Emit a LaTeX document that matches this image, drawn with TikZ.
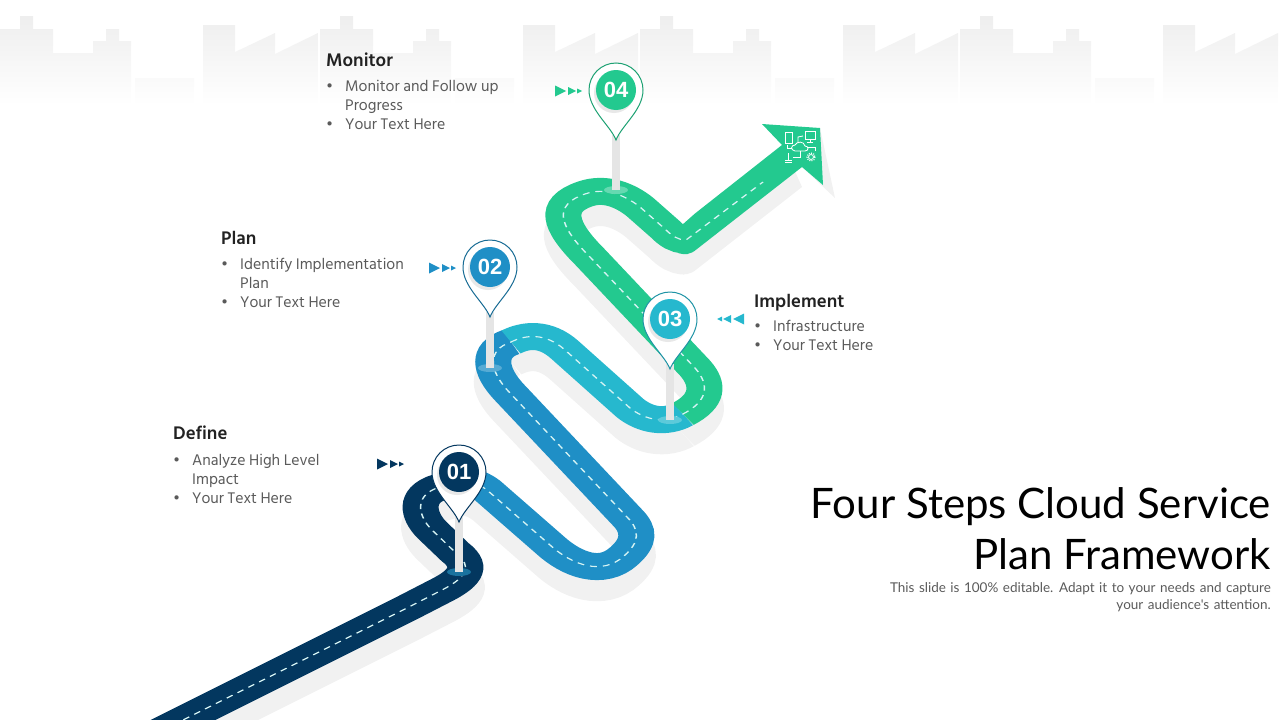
\documentclass[tikz,border=0pt]{standalone}
\usepackage{fontspec}
\setmainfont{Hind Siliguri}
\newfontfamily\titlefont{Lato}
\newfontfamily\numfont{Liberation Sans}
\usepackage{tikz}
\definecolor{myink}{HTML}{222222}
\definecolor{mytext}{HTML}{5A5A5A}
\definecolor{mynavy}{HTML}{03375F}
\definecolor{myblue}{HTML}{1F8FC6}
\definecolor{myteal}{HTML}{26B8CE}
\definecolor{mygreen}{HTML}{23C98F}
\definecolor{myshadow}{HTML}{F1F1F1}
\definecolor{mydash}{HTML}{D5F3F3}
\tikzset{
  road/.style={line width=36pt},
  roadshadow/.style={line width=39pt, draw=myshadow},
  roaddash/.style={line width=1.5pt, draw=mydash, dash pattern=on 7pt off 6pt},
  squashed/.style={y=-1.33333pt, transform canvas={yscale=0.75}},
  headtext/.style={anchor=base west, inner sep=0pt, text=myink, font=\fontsize{18.7}{20}\selectfont\bfseries},
  itemtext/.style={anchor=north west, inner sep=0pt, align=left, text=mytext, font=\fontsize{15.8}{19}\selectfont},
  pindisc/.style={circle, minimum size=40pt, inner sep=0pt, text=white, font=\numfont\fontsize{22}{24}\selectfont\bfseries},
}
% road pieces, in pixels of the slide
\newcommand{\roadnavy}{(151,736) -- (407,608) -- (440,591) .. controls (462,580) and (476,568) .. (455,552) -- (432,530) .. controls (418,516) and (413,495) .. (440,487) -- (455,483)}
\newcommand{\roadblue}{(455,483) .. controls (465,480) and (475,481) .. (487,490) -- (550,545) .. controls (572,565) and (602,576) .. (624,556) .. controls (640,542) and (640,530) .. (627,517) -- (510,393) .. controls (488,370) and (487,350) .. (511,342)}
\newcommand{\roadteal}{(511,342) .. controls (525,335) and (545,332) .. (565,350) -- (630,408) .. controls (645,420) and (665,424) .. (683,414)}
\newcommand{\roadgreen}{(683,414) .. controls (708,401) and (710,385) .. (695,368) -- (590,257) .. controls (558,225) and (553,205) .. (585,194) .. controls (605,187) and (625,195) .. (640,207) -- (665,229) .. controls (672,236) and (678,240) .. (686,240)}
\newcommand{\bul}{\makebox[19pt][l]{\textbullet}}
\newcommand{\skyline}{(0,105) -- (0,29) -- (20,29) -- (20,16) -- (33,16) -- (33,29) -- (53,29) -- (53,53) -- (93,53) -- (93,41) -- (106,41) -- (106,29) -- (119,29) -- (119,41) -- (131,41) -- (131,105) -- cycle
  (135,105) -- (135,78) -- (194,78) -- (194,105) -- cycle
  (203,105) -- (203,25) -- (235,25) -- (235,52) -- (275,33) -- (275,54) -- (318,33) -- (318,105) -- cycle}
% pin: name, centre x, centre y, foot y, colour, edge, ring, label
\newcommand{\pinmark}[8]{
  \fill[#7] (#2,#4) ellipse (12 and 4);
  \fill[black!10] (#2-4,#3+45) rectangle (#2+4,#4);
  \filldraw[fill=white, draw=#6, line width=1pt] (#2,#3+50) .. controls (#2-6,#3+35) and (#2-27,#3+20) .. (#2-27,#3) arc[start angle=180, end angle=360, radius=27] .. controls (#2+27,#3+20) and (#2+6,#3+35) .. cycle;
  \fill[black!9] (#2-2,#3+3) circle (20);
  \node[pindisc, fill=#5] (#1) at (#2,#3) {#8};
}
\newcommand{\triarrows}[4]{
  \foreach \a/\b/\h in {0/11/5.5, 13/21/4, 22/27/2.5}
    \fill[#4] ({#1+#3*\a},{#2-\h}) -- ({#1+#3*\b},#2) -- ({#1+#3*\a},{#2+\h}) -- cycle;
}
\begin{document}
\begin{tikzpicture}[x=1pt,y=-1pt]
\useasboundingbox (0,0) rectangle (1280,720);

% skyline behind everything
\foreach \shiftx in {0,320,640,960} {
  \begin{scope}[xshift=\shiftx pt]
    \clip \skyline;
    \shade[top color=black!7, bottom color=white] (0,12) rectangle (320,105);
  \end{scope}
}

% shadow under the road
\begin{scope}[squashed, shift={(0,20)}]
  \draw[roadshadow] \roadnavy;
  \draw[roadshadow] \roadblue;
  \draw[roadshadow] \roadteal;
  \draw[roadshadow] \roadgreen;
\end{scope}
\fill[myshadow] (683,240) -- (695,233) -- (790,160) -- (802,187) -- (697,269) .. controls (690,275) and (685,275) .. (678,273) -- cycle;
\fill[myshadow] (820,128) -- (835,198) -- (802,167) -- cycle;

% the road
\begin{scope}[squashed]
  \draw[road, mynavy] \roadnavy;
  \draw[road, myblue] \roadblue;
  \draw[road, myteal] \roadteal;
  \draw[road, mygreen] \roadgreen;
\end{scope}
\fill[mygreen] (682,225) -- (695,213.5) -- (782,145) -- (762,124) -- (820,128) -- (823,185) -- (802,167) -- (697,249) .. controls (690,255) and (685,255) .. (678,253) -- cycle;

% dashes
\begin{scope}[squashed]
  \draw[roaddash] \roadnavy;
  \draw[roaddash] \roadblue;
  \draw[roaddash] \roadteal;
  \draw[roaddash] \roadgreen -- (763,182);
\end{scope}

% cloud icon
\begin{scope}[white, line width=0.8pt]
  \draw (785,132) rectangle (792,143);
  \draw (805,131) rectangle (815,139) (810,139) -- (810,142) (807,142) -- (813,142);
  \draw (795,151) .. controls (790,150) and (791,145) .. (795,145) .. controls (797,141) and (804,141) .. (805,146) .. controls (809,146) and (809,151) .. (805,151) -- cycle;
  \draw (798,143) -- (798,137) -- (803,136);
  \draw (808,147) -- (815,147) -- (815,151);
  \draw (800,151) -- (800,157) -- (793,157);
  \draw (792,148) -- (787,148) -- (787,145);
  \draw (785,160) -- (792,160) (785,162) -- (792,162) (788,160) -- (788,153);
  \draw (811,157) circle (2.5);
  \draw[line width=1.2pt, dash pattern=on 1pt off 1.3pt] (811,157) circle (4);
\end{scope}

% pins
\pinmark{pinone}{459}{472}{572}{mynavy}{mynavy}{myblue!80!black}{01}
\pinmark{pintwo}{490}{267}{368}{myblue}{myblue!75!black}{myblue!75!white}{02}
\pinmark{pinthree}{670}{319}{420}{myteal}{myteal!80!black}{myteal!75!white}{03}
\pinmark{pinfour}{616}{90}{190}{mygreen}{mygreen!80!black}{mygreen!70!white}{04}

% small arrows
\triarrows{377}{464}{1}{mynavy}
\triarrows{429}{268}{1}{myblue}
\triarrows{744}{319}{-1}{myteal}
\triarrows{555}{91}{1}{mygreen}

% texts
\node[headtext] (define) at (173,439) {Define};
\node[itemtext] (defineitems) at (173,454) {\bul Analyze High Level\\\hspace*{19pt}Impact\\\bul Your Text Here};
\node[headtext] (plan) at (221,244) {Plan};
\node[itemtext] (planitems) at (221,258) {\bul Identify Implementation\\\hspace*{19pt}Plan\\\bul Your Text Here};
\node[headtext] (implement) at (754,307) {Implement};
\node[itemtext] (implementitems) at (754,320) {\bul Infrastructure\\\bul Your Text Here};
\node[headtext] (monitor) at (326,66) {Monitor};
\node[itemtext] (monitoritems) at (326,80) {\bul Monitor and Follow up\\\hspace*{19pt}Progress\\\bul Your Text Here};

\node[anchor=north east, inner sep=0pt, align=right, text=black, font=\titlefont\fontsize{42}{51}\selectfont] (title) at (1271,487) {Four Steps Cloud Service\\Plan Framework};
\node[anchor=north east, inner sep=0pt, align=right, text=mytext, font=\titlefont\fontsize{13.5}{17}\selectfont\spaceskip 4.5pt\relax] (subtitle) at (1271,582) {This slide is 100\% editable. Adapt it to your needs and capture\\your audience's attention.};
\end{tikzpicture}
\end{document}
